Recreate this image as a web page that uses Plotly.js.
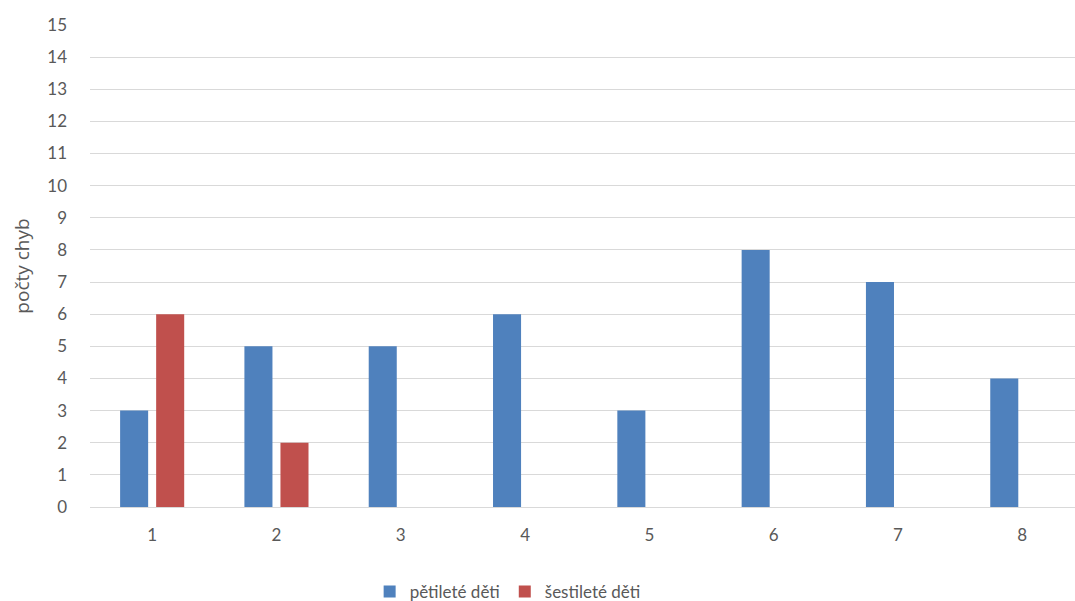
<!DOCTYPE html>
<html>
<head>
<meta charset="utf-8">
<script src="https://cdn.plot.ly/plotly-3.0.1.min.js"></script>
<style>
  html, body { margin: 0; padding: 0; background: #ffffff; overflow: hidden; }
  #chart { width: 1075px; height: 601px; }
</style>
</head>
<body>
<div id="chart"></div>
<script>
// Error counts per task for the two age groups
const categories = [1, 2, 3, 4, 5, 6, 7, 8];
const fiveYearOlds = [3, 5, 5, 6, 3, 8, 7, 4];
const sixYearOlds = [6, 2, 0, 0, 0, 0, 0, 0];
const seriesNames = ['pětileté děti', 'šestileté děti'];
const yTicks = [0, 1, 2, 3, 4, 5, 6, 7, 8, 9, 10, 11, 12, 13, 14, 15];

const labelFont = { family: 'Lato, "Open Sans", sans-serif', size: 17, color: '#595959' };
const titleFont = { family: '"Open Sans", Lato, sans-serif', size: 19, color: '#595959' };

const traces = [
  {
    type: 'bar',
    name: seriesNames[0],
    x: categories,
    y: fiveYearOlds,
    marker: { color: '#4F81BD' },
    hoverinfo: 'x+y+name'
  },
  {
    type: 'bar',
    name: seriesNames[1],
    x: categories,
    y: sixYearOlds,
    marker: { color: '#C0504D' },
    hoverinfo: 'x+y+name'
  }
];

const layout = {
  width: 1075,
  height: 601,
  margin: { l: 90, r: 0, t: 25, b: 94, autoexpand: false },
  paper_bgcolor: '#ffffff',
  plot_bgcolor: '#ffffff',
  barmode: 'group',
  bargap: 0.42,
  bargroupgap: 0.222,
  font: labelFont,
  xaxis: {
    type: 'linear',
    range: [0.5, 8.424],
    tickvals: categories,
    ticktext: categories.map(String),
    showgrid: false,
    zeroline: false,
    showline: false,
    ticks: '',
    ticklabelstandoff: 16,
    tickfont: labelFont,
    automargin: false,
    fixedrange: true
  },
  yaxis: {
    range: [0, 15],
    tickvals: yTicks,
    ticktext: yTicks.map(String),
    showgrid: true,
    gridcolor: '#d9d9d9',
    gridwidth: 1,
    zeroline: true,
    zerolinecolor: '#d9d9d9',
    zerolinewidth: 1,
    showline: false,
    ticks: '',
    ticklabelstandoff: 22,
    tickfont: labelFont,
    title: { text: 'počty chyb', font: titleFont, standoff: 12 },
    automargin: false,
    fixedrange: true
  },
  showlegend: true,
  legend: {
    orientation: 'h',
    x: 0.424,
    xanchor: 'center',
    y: -0.176,
    yanchor: 'middle',
    font: labelFont,
    bgcolor: 'rgba(0,0,0,0)',
    itemwidth: 30
  }
};

Plotly.newPlot('chart', traces, layout, { displayModeBar: false, staticPlot: true });
</script>
</body>
</html>
